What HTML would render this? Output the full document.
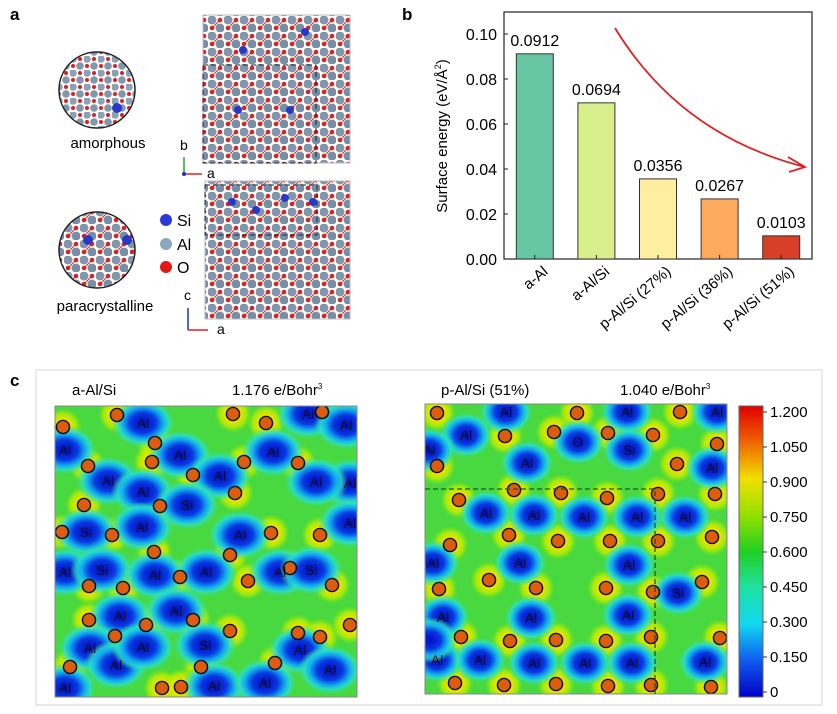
<!DOCTYPE html>
<html><head><meta charset="utf-8">
<style>
body{margin:0;background:#fff;}
svg{display:block;font-family:"Liberation Sans",Arial,sans-serif;}
</style></head>
<body>
<svg id="fig" width="837" height="714" viewBox="0 0 837 714" xmlns="http://www.w3.org/2000/svg">
<defs>
  <radialGradient id="blueBlob">
    <stop offset="0" stop-color="#0008c8"/>
    <stop offset="0.4" stop-color="#0838e0"/>
    <stop offset="0.62" stop-color="#10a8f0"/>
    <stop offset="0.8" stop-color="#28e0d0" stop-opacity="0.8"/>
    <stop offset="1" stop-color="#40e060" stop-opacity="0"/>
  </radialGradient>
  <radialGradient id="yelGlow">
    <stop offset="0" stop-color="#f0a000"/>
    <stop offset="0.4" stop-color="#f0e000"/>
    <stop offset="0.7" stop-color="#c0f000" stop-opacity="0.75"/>
    <stop offset="1" stop-color="#80e800" stop-opacity="0"/>
  </radialGradient>
  <linearGradient id="cbar" x1="0" y1="0" x2="0" y2="1">
    <stop offset="0" stop-color="#e00000"/>
    <stop offset="0.12" stop-color="#f06000"/>
    <stop offset="0.25" stop-color="#f0e000"/>
    <stop offset="0.38" stop-color="#90e000"/>
    <stop offset="0.5" stop-color="#20d020"/>
    <stop offset="0.62" stop-color="#20e0a0"/>
    <stop offset="0.75" stop-color="#10d8f0"/>
    <stop offset="0.87" stop-color="#1060f0"/>
    <stop offset="1" stop-color="#0000c8"/>
  </linearGradient>
  <pattern id="crystal" width="16" height="16" patternUnits="userSpaceOnUse">
    <rect width="16" height="16" fill="#fff"/>
    <circle cx="4" cy="4" r="4.5" fill="#7f98ab"/>
    <circle cx="12" cy="12" r="4.5" fill="#7590a5"/>
    <circle cx="12" cy="4" r="2.3" fill="#e02020"/>
    <circle cx="4" cy="12" r="2.3" fill="#e02020"/>
    <line x1="4" y1="12" x2="12" y2="4" stroke="#d02020" stroke-width="1"/>
  </pattern>
  <pattern id="crystal2" width="14" height="14" patternUnits="userSpaceOnUse">
    <rect width="14" height="14" fill="#fff"/>
    <circle cx="3" cy="3" r="3.8" fill="#8aa2b4"/>
    <circle cx="10" cy="10" r="3.8" fill="#7f98ab"/>
    <circle cx="10" cy="3" r="2" fill="#e02020"/>
    <circle cx="3" cy="10" r="2" fill="#e02020"/>
  </pattern>
  <clipPath id="clipL"><rect x="55" y="406" width="302" height="291"/></clipPath>
  <clipPath id="clipR"><rect x="425" y="404" width="302" height="290"/></clipPath>
  <clipPath id="c1"><circle cx="97" cy="90" r="38"/></clipPath>
  <clipPath id="c2"><circle cx="97" cy="250" r="38"/></clipPath>
</defs>

<text x="10" y="20" font-size="17" font-weight="bold">a</text>
<g>
  <g clip-path="url(#c1)"><rect x="55" y="50" width="90" height="90" fill="url(#crystal2)"/><circle cx="117" cy="108" r="5" fill="#2838c8"/></g>
  <circle cx="97" cy="90" r="38" fill="none" stroke="#222" stroke-width="1.5"/>
</g>
<text x="108" y="148" font-size="15" text-anchor="middle">amorphous</text>
<g>
  <g clip-path="url(#c2)"><rect x="55" y="210" width="90" height="90" fill="url(#crystal)"/><circle cx="88" cy="240" r="5" fill="#2838c8"/><circle cx="127" cy="240" r="5" fill="#2838c8"/></g>
  <circle cx="97" cy="250" r="38" fill="none" stroke="#222" stroke-width="1.5"/>
</g>
<text x="105" y="311" font-size="15" text-anchor="middle">paracrystalline</text>
<g>
  <circle cx="166" cy="220" r="6" fill="#2a3ad8"/><text x="177" y="226" font-size="16">Si</text>
  <circle cx="166" cy="244" r="6" fill="#8aa8bc"/><text x="177" y="250" font-size="16">Al</text>
  <circle cx="166" cy="267" r="6" fill="#e01818"/><text x="177" y="273" font-size="16">O</text>
</g>
<g>
  <rect x="203" y="15" width="147" height="148" fill="url(#crystal)" stroke="#bbb"/>
  <rect x="203" y="65" width="113" height="98" fill="none" stroke="#222" stroke-dasharray="5,3"/>
  <circle cx="243" cy="50" r="4" fill="#2838c8"/><circle cx="238" cy="110" r="4" fill="#2838c8"/><circle cx="290" cy="110" r="4" fill="#2838c8"/><circle cx="305" cy="32" r="4" fill="#2838c8"/>
</g>
<g>
  <rect x="205" y="181" width="145" height="138" fill="url(#crystal)" stroke="#bbb"/>
  <rect x="205" y="185" width="112" height="50" fill="none" stroke="#222" stroke-dasharray="5,3"/>
  <circle cx="232" cy="202" r="4" fill="#2838c8"/><circle cx="256" cy="210" r="4" fill="#2838c8"/><circle cx="285" cy="198" r="4" fill="#2838c8"/><circle cx="313" cy="202" r="4" fill="#2838c8"/>
</g>
<g>
  <line x1="184" y1="174" x2="184" y2="157" stroke="#20b020" stroke-width="1.5"/><text x="180" y="150" font-size="14">b</text>
  <line x1="184" y1="174" x2="202" y2="174" stroke="#e02020" stroke-width="1.5"/><text x="207" y="178" font-size="14">a</text>
  <circle cx="184" cy="174" r="2" fill="#2030c0"/>
</g>
<g>
  <line x1="188" y1="330" x2="188" y2="308" stroke="#2030c0" stroke-width="1.5"/><text x="184" y="300" font-size="14">c</text>
  <line x1="188" y1="330" x2="208" y2="330" stroke="#e02020" stroke-width="1.5"/><text x="217" y="334" font-size="14">a</text>
</g>

<text x="402" y="20" font-size="17" font-weight="bold">b</text>
<g id="barChart"></g>

<text x="10" y="386" font-size="17" font-weight="bold">c</text>
<rect x="36" y="370" width="786" height="335" fill="none" stroke="#ddd" stroke-width="1.2"/>
<text x="72" y="395" font-size="15">a-Al/Si</text>
<text x="232" y="395" font-size="15">1.176 e/Bohr<tspan font-size="8" dy="-6">3</tspan></text>
<text x="441" y="395" font-size="15">p-Al/Si (51%)</text>
<text x="620" y="395" font-size="15">1.040 e/Bohr<tspan font-size="8" dy="-6">3</tspan></text>
<g id="mapL" clip-path="url(#clipL)"></g>
<rect x="55" y="406" width="302" height="291" fill="none" stroke="#888"/>
<g id="mapR" clip-path="url(#clipR)"></g>
<rect x="425" y="404" width="302" height="290" fill="none" stroke="#888"/>
<polyline points="425,489 655,489 655,694" fill="none" stroke="#225522" stroke-width="1.3" stroke-dasharray="5,3"/>
<g id="cbarG">
  <rect x="739" y="406" width="24" height="291" fill="url(#cbar)" stroke="#666"/>
</g>
</svg>
<script>
const categories = ["a-Al","a-Al/Si","p-Al/Si (27%)","p-Al/Si (36%)","p-Al/Si (51%)"];
const values = [0.0912,0.0694,0.0356,0.0267,0.0103];
const valueLabels = ["0.0912","0.0694","0.0356","0.0267","0.0103"];
const yTicks = [0,0.02,0.04,0.06,0.08,0.10];
const yTickLabels = ["0.00","0.02","0.04","0.06","0.08","0.10"];
const barColors = ["#66c6a4","#d9ef8b","#fdeea0","#fdaa5f","#d93f26"];
const cbarTicks = [1.2,1.05,0.9,0.75,0.6,0.45,0.3,0.15,0];
const cbarTickLabels = ["1.200","1.050","0.900","0.750","0.600","0.450","0.300","0.150","0"];

const NS="http://www.w3.org/2000/svg";
function mk(tag,attrs,parent){const e=document.createElementNS(NS,tag);for(const k in attrs)e.setAttribute(k,attrs[k]);parent.appendChild(e);return e;}

const ax={x0:504,x1:812,yTop:12,yBot:259};
const yScale=v=>259-v*(259-34)/0.10;
const xBand=i=>ax.x0+(ax.x1-ax.x0)*(i+0.5)/categories.length;
const g=document.getElementById('barChart');

const frame=mk('rect',{x:ax.x0,y:ax.yTop,width:ax.x1-ax.x0,height:ax.yBot-ax.yTop,fill:'none',stroke:'#222','stroke-width':1.2},g);



yTicks.forEach((t,i)=>{
  const y=yScale(t);
  const tk=mk('line',{x1:ax.x0,x2:ax.x0+4,y1:y,y2:y,stroke:'#222'},g);
  
  
  const tl=mk('text',{x:ax.x0-7,y:y+6,'font-size':16,'text-anchor':'end'},g);
  tl.textContent=yTickLabels[i];
  
  
});
const yt=mk('text',{transform:'translate(447,136) rotate(-90)','font-size':15,'text-anchor':'middle'},g);
yt.innerHTML='Surface energy (eV/Å<tspan font-size="9" dy="-6">2</tspan><tspan dy="6">)</tspan>';



const bw=37;
categories.forEach((c,i)=>{
  const cx=xBand(i), y=yScale(values[i]);
  const b=mk('rect',{x:cx-bw/2,y:y,width:bw,height:ax.yBot-y,fill:barColors[i],stroke:'#333','stroke-width':1},g);
  
  
  const vl=mk('text',{x:cx,y:y-8,'font-size':16,'text-anchor':'middle'},g);
  vl.textContent=valueLabels[i];
  
  
  const tk=mk('line',{x1:cx,x2:cx,y1:ax.yBot,y2:ax.yBot-4,stroke:'#222'},g);
  
  
  const xl=mk('text',{transform:`translate(${cx+14},${ax.yBot+14}) rotate(-40)`,'font-size':15,'text-anchor':'end'},g);
  xl.textContent=c;
  
  
});
const arrow=mk('path',{d:'M615,28 Q680,135 805,167',fill:'none',stroke:'#e02020','stroke-width':1.8},g);


const ah=mk('path',{d:'M788,157 L805,167 L789,172',fill:'none',stroke:'#e02020','stroke-width':1.8},g);



const cg=document.getElementById('cbarG');
const cbY=v=>692-v*(692-412)/1.2;
cbarTicks.forEach((t,i)=>{
  const y=cbY(t);
  const l=mk('line',{x1:763,x2:767,y1:y,y2:y,stroke:'#333'},cg);
  
  
  const tx=mk('text',{x:770,y:y+5,'font-size':15},cg);
  tx.textContent=cbarTickLabels[i];
  
  
});

const leftBlobs=[[143,423,'Al'],[65,450,'Al'],[180,455,'Al'],[273,452,'Al'],[108,481,'Al'],[143,492,'Al'],[220,476,'Al'],[350,483,'Al'],[316,482,'Al'],[142,527,'Al'],[240,535,'Al'],[350,523,'Al'],[187,505,'Si'],[86,532,'Si'],[65,572,'Al'],[102,570,'Si'],[155,575,'Al'],[206,572,'Al'],[280,572,'Al'],[311,570,'Si'],[120,616,'Al'],[176,611,'Al'],[90,648,'Al'],[116,665,'Al'],[143,647,'Al'],[205,645,'Si'],[300,650,'Al'],[330,670,'Al'],[65,688,'Al'],[214,686,'Al'],[265,683,'Al'],[308,414,'Al'],[346,425,'Al']];
const leftO=[[63,427],[117,415],[155,443],[152,462],[88,466],[193,475],[233,414],[266,423],[244,462],[298,463],[235,493],[160,506],[84,505],[62,532],[112,535],[154,552],[230,555],[180,577],[89,586],[123,588],[248,581],[290,568],[271,533],[320,535],[332,585],[89,620],[146,625],[193,620],[115,636],[230,631],[298,633],[320,637],[350,625],[70,667],[201,667],[275,663],[162,688],[181,687],[322,412]];
const rightBlobs=[[506,412,'Al'],[466,435,'Al'],[527,463,'Al'],[578,442,'O'],[627,412,'Al'],[717,412,'Al'],[712,468,'Al'],[629,450,'Si'],[429,450,'Al'],[486,513,'Al'],[534,515,'Al'],[584,517,'Al'],[637,517,'Al'],[685,517,'Al'],[433,563,'Al'],[520,563,'Al'],[629,565,'Al'],[443,617,'Al'],[531,618,'Al'],[628,615,'Al'],[678,593,'Si'],[437,660,'Al'],[480,660,'Al'],[534,663,'Al'],[585,663,'Al'],[632,663,'Al'],[705,662,'Al'],[430,640,'']];
const rightO=[[437,413],[577,413],[680,412],[505,436],[554,432],[608,433],[653,435],[717,444],[437,466],[677,464],[514,490],[561,493],[607,498],[459,500],[658,494],[715,494],[509,535],[558,541],[610,541],[658,541],[450,545],[712,537],[489,580],[439,589],[536,588],[606,588],[653,592],[702,582],[461,637],[510,641],[556,640],[606,641],[651,637],[720,638],[455,683],[504,685],[556,684],[608,686],[651,685],[711,687]];

function drawMap(id,x,y,w,h,blobs,atoms,big){
  const m=document.getElementById(id);
  const bg=mk('rect',{x:x,y:y,width:w,height:h,fill:'#48d840'},m);
  
  
  atoms.forEach(a=>{
    const gl=mk('circle',{cx:a[0],cy:a[1],r:19,fill:'url(#yelGlow)'},m);
    
    
  });
  blobs.forEach(b=>{
    const e=mk('ellipse',{cx:b[0],cy:b[1],rx:big?32:27,ry:big?25:23,fill:'url(#blueBlob)'},m);
    
    
  });
  atoms.forEach(a=>{
    const d=mk('circle',{cx:a[0],cy:a[1],r:5.5,fill:'#e05a10'},m);
    
    
    const r=mk('circle',{cx:a[0],cy:a[1],r:6.5,fill:'none',stroke:'#111','stroke-width':1.6},m);
    
    
  });
  blobs.forEach(b=>{
    if(!b[2])return;
    const t=mk('text',{x:b[0],y:b[1]+5,'font-size':14,'text-anchor':'middle',fill:'#111'},m);
    t.textContent=b[2];
    
    
  });
}
drawMap('mapL',55,406,302,291,leftBlobs,leftO,true);
drawMap('mapR',425,404,302,290,rightBlobs,rightO,false);
</script>
</body></html>
